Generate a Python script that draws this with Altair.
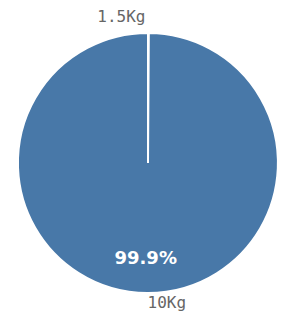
import altair as alt
import pandas as pd

labels = ["1.5Kg", "10Kg"]
counts = [1, 999]

df = pd.DataFrame({"label": labels, "count": counts, "idx": [0, 1]})

base = alt.Chart(df).encode(
    theta=alt.Theta("count:Q", stack=True),
    order=alt.Order("idx:Q"),
)

pie = base.mark_arc(radius=130, stroke="white", strokeWidth=2, color="#4878a8")

top_label = base.mark_text(
    font="DejaVu Sans Mono", fontSize=16, color="#666666",
    align="right", baseline="middle", radius=146, dx=-3,
).encode(
    text=alt.condition(alt.datum.label == "1.5Kg", "label:N", alt.value(""))
)

bottom_label = base.mark_text(
    font="DejaVu Sans Mono", fontSize=16, color="#666666",
    align="left", baseline="middle", radius=140,
).encode(
    text=alt.condition(alt.datum.label == "10Kg", "label:N", alt.value(""))
)

pct = base.transform_joinaggregate(
    total="sum(count)"
).transform_calculate(
    pct="datum.count / datum.total",
    pct_text="datum.pct > 0.5 ? format(datum.pct, '.1%') : ''",
).mark_text(
    font="DejaVu Sans", fontSize=18, fontWeight="bold", color="white",
    align="center", baseline="middle", radius=96, dx=-2,
).encode(text="pct_text:N")

chart = alt.layer(pie, top_label, bottom_label, pct).properties(
    width=280, height=310,
    autosize=alt.AutoSizeParams(type="none"),
    padding=0,
).configure_view(stroke=None)

chart.save("out.html", embed_options={"renderer": "svg", "actions": False})
